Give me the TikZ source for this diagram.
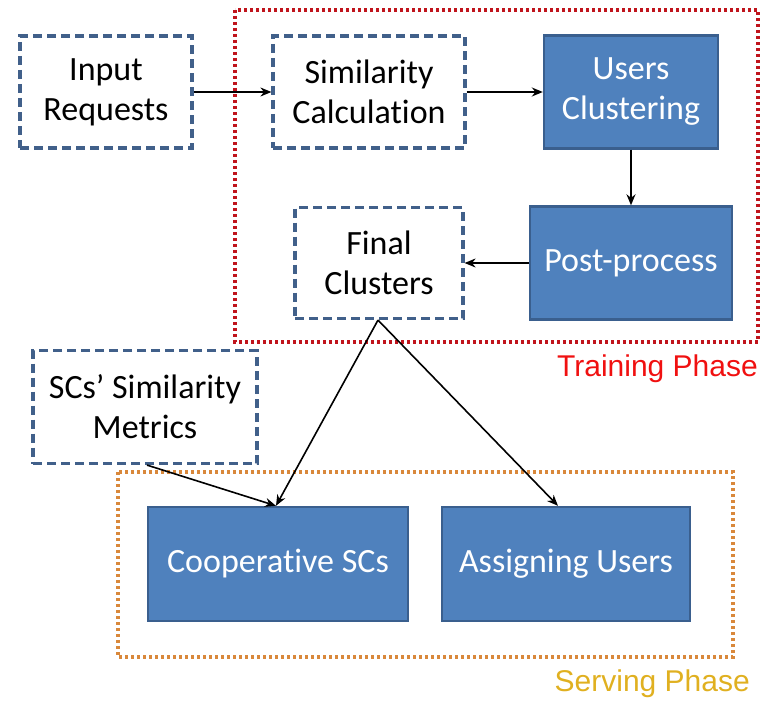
\documentclass[tikz,border=0pt]{standalone}
\usepackage{fontspec}
\setmainfont{Carlito}[Ligatures=NoCommon]
\newfontfamily\phasefont{Liberation Sans}
\usetikzlibrary{arrows.meta,calc}
\definecolor{dashblue}{HTML}{41608A}
\definecolor{fillblue}{HTML}{4F81BD}
\definecolor{edgeblue}{HTML}{3A5F8E}
\definecolor{trainred}{HTML}{C0141C}
\definecolor{textred}{HTML}{F01010}
\definecolor{serveorange}{HTML}{D9883B}
\definecolor{servetext}{HTML}{E0B020}
\tikzset{
  txt/.style={font=\fontsize{34}{40}\selectfont, align=center, inner sep=0pt},
  dashbox/.style={txt, draw=dashblue, line width=3.2pt, dash pattern=on 9pt off 5pt, text=black},
  fillbox/.style={txt, draw=edgeblue, line width=2.4pt, fill=fillblue, text=white},
  conn/.style={line width=1.6pt, -{Stealth[length=11pt,width=9pt]}},
  phasebox/.style={line width=3.4pt, dash pattern=on 3pt off 3pt},
  phaselabel/.style={font=\phasefont\fontsize{30}{34}\selectfont, inner sep=0pt, anchor=east}
}
\begin{document}
\begin{tikzpicture}[x=1pt,y=-1pt]
\useasboundingbox (0,0) rectangle (774,709);
\draw[phasebox, trainred] (235,10) rectangle (758,342);
\draw[phasebox, serveorange] (118,472) rectangle (733,657);
\node[dashbox, minimum width=172pt, minimum height=112pt] (inp) at (106,92) {Input\\Requests};
\node[dashbox, minimum width=192pt, minimum height=112pt] (sim) at (369,92) {Similarity\\Calculation};
\node[fillbox, minimum width=174pt, minimum height=113pt] (usr) at (631,92) {Users\\Clustering};
\node[fillbox, minimum width=202pt, minimum height=113pt] (post) at (631,263) {Post-process};
\node[dashbox, minimum width=168pt, minimum height=111pt] (fin) at (379,263) {Final\\Clusters};
\node[dashbox, minimum width=224pt, minimum height=113pt] (scs) at (145,407) {SCs’ Similarity\\Metrics};
\node[fillbox, minimum width=260pt, minimum height=114pt] (coop) at (278,564) {Cooperative SCs};
\node[fillbox, minimum width=248pt, minimum height=114pt] (asg) at (566,564) {Assigning Users};
\node[phaselabel, text=textred] (tlab) at (758,369) {Training Phase};
\node[phaselabel, text=servetext] (slab) at (750,684) {Serving Phase};
\coordinate (coopin) at ($(coop.north)+(-2,0)$);
\coordinate (asgin) at ($(asg.north)+(-8,0)$);
\coordinate (finout) at ($(fin.south)+(-1,0)$);
\coordinate (scsout) at ($(scs.south)+(2,0)$);
\draw[conn] (inp.east) -- (sim.west);
\draw[conn] (sim.east) -- (usr.west);
\draw[conn] (usr.south) -- (post.north);
\draw[conn] (post.west) -- (fin.east);
\draw[conn] (finout) -- (coopin);
\draw[conn] (finout) -- (asgin);
\draw[conn] (scsout) -- (coopin);
\end{tikzpicture}
\end{document}
